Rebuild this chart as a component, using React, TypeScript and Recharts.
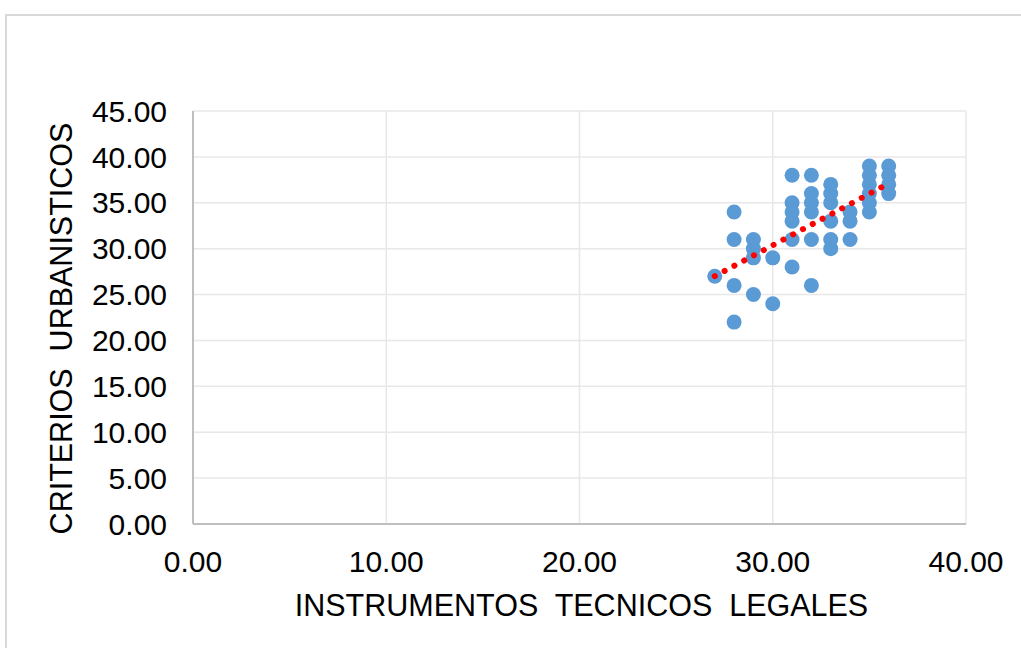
import React from "react";
import {
  ScatterChart,
  Scatter,
  XAxis,
  YAxis,
  CartesianGrid,
} from "recharts";

// puntos (x = instrumentos, y = criterios)
const instrumentos = [
  27,
  28, 28, 28, 28,
  29, 29, 29, 29,
  30, 30,
  31, 31, 31, 31, 31, 31,
  32, 32, 32, 32, 32, 32,
  33, 33, 33, 33, 33, 33,
  34, 34, 34,
  35, 35, 35, 35, 35, 35,
  36, 36, 36, 36,
];
const criterios = [
  27,
  34, 31, 26, 22,
  31, 30, 29, 25,
  29, 24,
  38, 35, 34, 33, 31, 28,
  38, 36, 35, 34, 31, 26,
  37, 36, 35, 33, 31, 30,
  34, 33, 31,
  39, 38, 37, 36, 35, 34,
  39, 38, 37, 36,
];

// linea de tendencia (extremos leidos)
const trendX = [27, 36];
const trendY = [27.0, 37.1];

const xTicks = [0, 10, 20, 30, 40];
const yTicks = [0, 5, 10, 15, 20, 25, 30, 35, 40, 45];

const points = instrumentos.map((x, i) => ({ x, y: criterios[i] }));
const trend = trendX.map((x, i) => ({ x, y: trendY[i] }));

const FONT = "'Liberation Sans', Arial, sans-serif";

function YTitle(props: any) {
  const vb = props.viewBox || { y: 111, height: 413 };
  const cx = 61;
  const cy = vb.y + vb.height / 2 + 11;
  return (
    <text
      x={cx}
      y={cy}
      transform={`rotate(-90 ${cx} ${cy})`}
      textAnchor="middle"
      dominantBaseline="central"
      fontSize={30.5}
      fontFamily={FONT}
      fill="#000"
      style={{ whiteSpace: "pre" }}
    >
      {"CRITERIOS  URBANISTICOS"}
    </text>
  );
}

function XTitle(props: any) {
  const vb = props.viewBox || { x: 193, width: 773 };
  const cx = vb.x + vb.width / 2 + 2;
  return (
    <text
      x={cx}
      y={605}
      textAnchor="middle"
      dominantBaseline="central"
      fontSize={30.5}
      fontFamily={FONT}
      fill="#000"
      style={{ whiteSpace: "pre" }}
    >
      {"INSTRUMENTOS  TECNICOS  LEGALES"}
    </text>
  );
}

const noShape = () => <g />;

export default function App() {
  return (
    <div
      style={{
        position: "fixed",
        left: 0,
        top: 0,
        width: 1021,
        height: 648,
        overflow: "hidden",
        background: "#fff",
      }}
    >
      <div
        style={{
          position: "absolute",
          left: 5,
          top: 14,
          width: 1040,
          height: 660,
          border: "2px solid #d9d9d9",
        }}
      />
      <div style={{ position: "absolute", left: 0, top: 0 }}>
        <ScatterChart
          width={1021}
          height={648}
          margin={{ top: 111, right: 55, bottom: 0, left: 0 }}
        >
          <CartesianGrid stroke="#e8e8e8" strokeWidth={1.5} />
          <XAxis
            type="number"
            dataKey="x"
            domain={[0, 40]}
            ticks={xTicks}
            height={124}
            tickLine={false}
            tickSize={0}
            tickMargin={27}
            axisLine={{ stroke: "#bfbfbf", strokeWidth: 2 }}
            tickFormatter={(v: number) => v.toFixed(2)}
            tick={{ fontSize: 30, fontFamily: FONT, fill: "#000" }}
            label={<XTitle />}
          />
          <YAxis
            type="number"
            dataKey="y"
            domain={[0, 45]}
            ticks={yTicks}
            width={193}
            tickLine={false}
            tickSize={0}
            tickMargin={26}
            axisLine={{ stroke: "#bfbfbf", strokeWidth: 2 }}
            tickFormatter={(v: number) => v.toFixed(2)}
            tick={{ fontSize: 30, fontFamily: FONT, fill: "#000" }}
            label={<YTitle />}
          />
          <Scatter
            data={points}
            fill="#5b9bd5"
            shape={(p: any) => (
              <circle cx={p.cx} cy={p.cy} r={7.5} fill="#5b9bd5" />
            )}
            isAnimationActive={false}
          />
          <Scatter
            data={trend}
            line={{
              stroke: "#ff0000",
              strokeWidth: 6,
              strokeDasharray: "0.1 11",
              strokeLinecap: "round",
            }}
            shape={noShape}
            isAnimationActive={false}
          />
        </ScatterChart>
      </div>
    </div>
  );
}
